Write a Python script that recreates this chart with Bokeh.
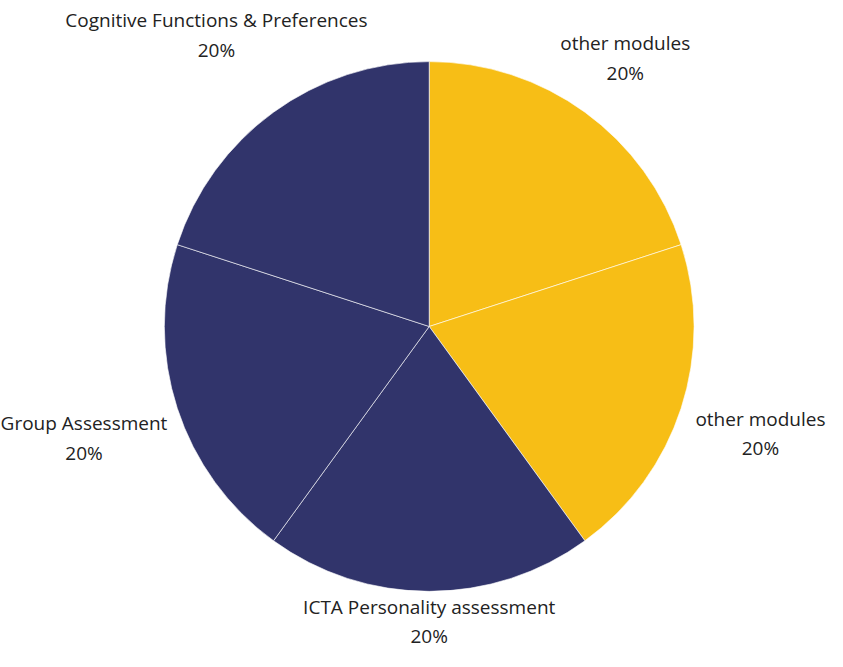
import math
from bokeh.plotting import figure
from bokeh.models import Range1d, ColumnDataSource
from bokeh.core.properties import value
from bokeh.embed import file_html
from bokeh.resources import INLINE

categories = ["other modules", "other modules", "ICTA Personality assessment",
              "Group Assessment", "Cognitive Functions & Preferences"]
values = [20, 20, 20, 20, 20]
colors = ["#F7BE16", "#F7BE16", "#31346B", "#31346B", "#31346B"]

W, H = 827, 651
# data space matches the 843x667 reference layout, scaled into the figure
p = figure(width=W, height=H, output_backend="svg", toolbar_location=None,
           x_range=Range1d(0, 843), y_range=Range1d(0, 667), min_border=0)
p.axis.visible = False
p.grid.visible = False
p.outline_line_color = None

cx, cy = 437, 667 - 334
R = 270
total = sum(values)
starts, ends, mids = [], [], []
cum = 0
for v in values:
    s = math.pi / 2 - cum / total * 2 * math.pi
    cum += v
    e = math.pi / 2 - cum / total * 2 * math.pi
    starts.append(s); ends.append(e); mids.append((s + e) / 2)

src = ColumnDataSource(dict(start=starts, end=ends, color=colors))
p.wedge(x=cx, y=cy, radius=R, start_angle="start", end_angle="end", direction="clock",
        fill_color="color", line_color="white", line_width=0.6, source=src)

label_r = [340, 355, 302, 370, 369]
lx = [cx + r * math.cos(a) for r, a in zip(label_r, mids)]
ly = [cy + r * math.sin(a) for r, a in zip(label_r, mids)]
pct = [f"{round(v / total * 100)}%" for v in values]
lsrc = ColumnDataSource(dict(x=lx, y1=[y + 15 for y in ly], y2=[y - 15 for y in ly],
                             name=categories, pct=pct))
for ycol, tcol in (("y1", "name"), ("y2", "pct")):
    p.text(x="x", y=ycol, text=tcol, source=lsrc, text_align="center",
           text_baseline="middle", text_font=value("Open Sans"),
           text_font_size="19px", text_color="#222222")

open("out.html", "w").write(file_html(p, INLINE))
